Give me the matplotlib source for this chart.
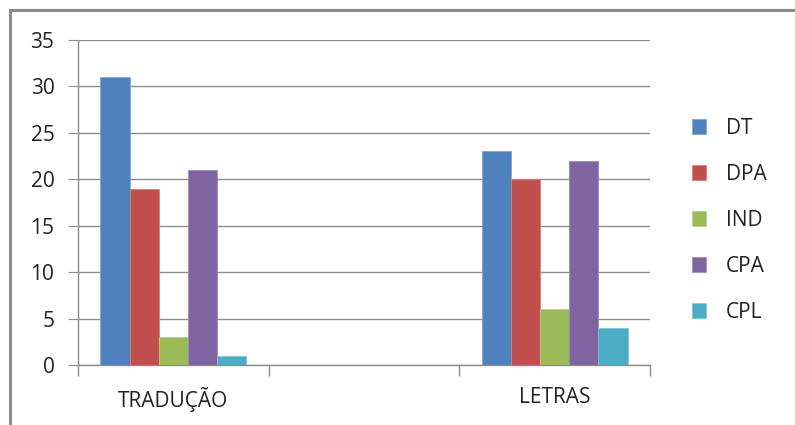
import matplotlib.pyplot as plt
import numpy as np
from matplotlib.patches import Rectangle

# Counts per course; the middle slot is an empty category
categories = ["TRADUÇÃO", "", "LETRAS"]
series_names = ["DT", "DPA", "IND", "CPA", "CPL"]
dt = [31, np.nan, 23]
dpa = [19, np.nan, 20]
ind = [3, np.nan, 6]
cpa = [21, np.nan, 22]
cpl = [1, np.nan, 4]

colors = ["#4F81BD", "#C0504D", "#9BBB59", "#8064A2", "#4BACC6"]
edges = ["#7FA3D2", "#D47F7D", "#B7CF8A", "#A08BBF", "#7FC6D9"]

plt.rcParams["font.family"] = ["Open Sans", "DejaVu Sans"]

fig = plt.figure(figsize=(7.95, 4.25), dpi=100)
ax = fig.add_axes([78 / 795, 1 - 365 / 425, (650 - 78) / 795, (365 - 40) / 425])

# outer chart frame
fig.patches.append(Rectangle((10 / 795, -0.01), 1.0, 1 - 10 / 425 + 0.01,
                             transform=fig.transFigure, fill=False,
                             edgecolor="#8C8C8C", lw=2.2))

x = np.arange(len(categories))
w = 0.153
for i, (name, vals) in enumerate(zip(series_names, [dt, dpa, ind, cpa, cpl])):
    offset = (i - 2) * w
    ax.bar(x + offset, vals, w, label=name, color=colors[i],
           edgecolor=edges[i], linewidth=0.6, zorder=3)

ax.set_xlim(-0.5, 2.5)
ax.set_ylim(0, 35)
ax.set_yticks(np.arange(0, 36, 5))
ax.yaxis.grid(True, color="#8C8C8C", lw=1.0, zorder=0)
ax.tick_params(axis="y", length=7, color="#8C8C8C", labelsize=15, pad=10,
               labelcolor="#222222")

ax.set_xticks(x)
ax.set_xticklabels(categories, fontsize=15, color="#222222")
ax.tick_params(axis="x", which="major", length=0, pad=16)
ax.set_xticks(np.arange(-0.5, 2.6, 1.0), minor=True)
ax.tick_params(axis="x", which="minor", length=8, color="#8C8C8C", width=1.0)

for side in ["top", "right"]:
    ax.spines[side].set_visible(False)
for side in ["left", "bottom"]:
    ax.spines[side].set_color("#8C8C8C")
    ax.spines[side].set_linewidth(1.0)

ax.legend(loc="upper left", bbox_to_anchor=(673 / 795, 1 - 99 / 425),
          bbox_transform=fig.transFigure, frameon=False, fontsize=15,
          handlelength=0.7, handleheight=0.7, handletextpad=0.95,
          labelspacing=1.2, labelcolor="#222222")

fig.savefig("out.png", dpi=100)
